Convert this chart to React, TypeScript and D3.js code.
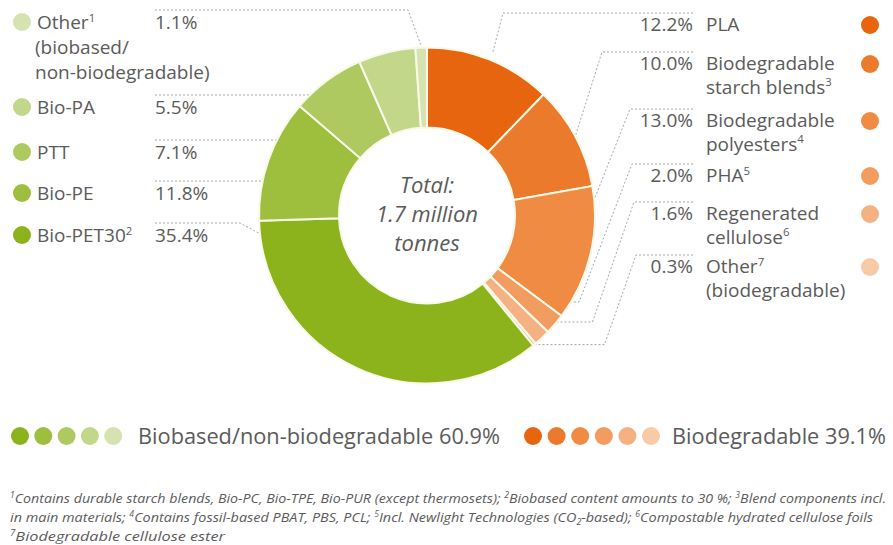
import * as d3 from "d3"

// shares in %, clockwise from 12 o'clock
const degradableNames = ["PLA", "Biodegradable starch blends", "Biodegradable polyesters", "PHA", "Regenerated cellulose", "Other (biodegradable)"]
const degradableShares = [12.2, 10.0, 13.0, 2.0, 1.6, 0.3]
const degradableLabels = [["PLA"], ["Biodegradable", "starch blends^3"], ["Biodegradable", "polyesters^4"], ["PHA^5"], ["Regenerated", "cellulose^6"], ["Other^7", "(biodegradable)"]]
const degradableColors = ["#e8650f", "#ec7a2c", "#ef8b43", "#f29c5f", "#f5b182", "#f8caa5"]

const biobasedNames = ["Bio-PET30", "Bio-PE", "PTT", "Bio-PA", "Other (biobased/non-biodegradable)"]
const biobasedShares = [35.4, 11.8, 7.1, 5.5, 1.1]
const biobasedLabels = [["Bio-PET30^2"], ["Bio-PE"], ["PTT"], ["Bio-PA"], ["Other^1", "(biobased/", "non-biodegradable)"]]
const biobasedColors = ["#8db31c", "#9ebe3d", "#afc961", "#c3d78b", "#d6e2b0"]

const centerLines = ["Total:", "1.7 million", "tonnes"]
const groupLegend = ["Biobased/non-biodegradable 60.9%", "Biodegradable 39.1%"]
const footnotes = [
  "^1Contains durable starch blends, Bio-PC, Bio-TPE, Bio-PUR (except thermosets); ^2Biobased content amounts to 30 %; ^3Blend components incl.",
  "in main materials; ^4Contains fossil-based PBAT, PBS, PCL; ^5Incl. Newlight Technologies (CO_2-based); ^6Compostable hydrated cellulose foils",
  "^7Biodegradable cellulose ester",
]

const W = 893
const H = 545
const cx = 427
const cy = 215.5
const R = 168
const r0 = 88
const FONT = "'Open Sans', 'DejaVu Sans', sans-serif"
const GREY = "#5b5b5b"
const LEADER = "#a3a8b0"

// label rows (y of the first text line)
const rightRows = [24, 63, 120, 175, 213, 266]
const leftRows = [235, 193, 152, 107, 22] // Bio-PET30 .. Other
// leader specs
const rightLeaders = [
  { elbow: 503, frac: 0.5, r: 176, flat: 0 },
  { elbow: 602, frac: 0.5, r: 168, flat: 0 },
  { elbow: 630, frac: 0.3, r: 157, flat: 0 },
  { elbow: 632, frac: 0.2, r: 140, flat: 42 },
  { elbow: 634, frac: 0.1, r: 152, flat: 57 },
  { elbow: 636, frac: 0.5, r: 168, flat: 70 },
]
const leftLeaders = [
  { elbow: 240, frac: 0.9, r: 140 },
  { r: 138 },
  { r: 102 },
  { r: 128 },
  { elbow: 408, frac: 0.5, r: 170 },
]

function rich(str: string, size: number) {
  const parts = str.split(/(\^\d|_\d)/).filter((p) => p !== "")
  const out: any[] = []
  let shift = 0
  parts.forEach((p, i) => {
    if (p[0] === "^" || p[0] === "_") {
      const dy = p[0] === "^" ? -size * 0.38 : size * 0.22
      out.push(
        <tspan key={i} dy={dy - shift} fontSize={size * 0.6}>
          {p.slice(1)}
        </tspan>
      )
      shift = dy
    } else {
      out.push(
        <tspan key={i} dy={-shift}>
          {p}
        </tspan>
      )
      shift = 0
    }
  })
  return out
}

const polar = (a: number, r: number): [number, number] => [cx + r * Math.sin(a), cy - r * Math.cos(a)]

export default function App() {
  const names = [...degradableNames, ...biobasedNames]
  const shares = [...degradableShares, ...biobasedShares]
  const colors = [...degradableColors, ...biobasedColors]
  const idx = d3.range(names.length)

  const pie = d3
    .pie<number>()
    .sort(null)
    .value((i) => shares[i])
  const arcs = pie(idx)
  const arc = d3.arc<d3.PieArcDatum<number>>().innerRadius(r0).outerRadius(R)
  const line = d3.line()

  const nD = degradableNames.length

  const rightPaths = degradableNames.map((_, i) => {
    const a = arcs[i]
    const s = rightLeaders[i]
    const ang = a.startAngle + (a.endAngle - a.startAngle) * s.frac
    const end = polar(ang, s.r)
    const ly = rightRows[i] - 11
    const pts: [number, number][] = [[693, ly], [s.elbow, ly]]
    if (s.flat) pts.push([end[0] + s.flat, end[1]])
    pts.push(end)
    return line(pts)
  })

  const leftPaths = biobasedNames.map((_, j) => {
    const a = arcs[nD + j]
    const s = leftLeaders[j]
    const ly = leftRows[j] - 12
    const pts: [number, number][] = [[155, ly]]
    if (s.elbow !== undefined) {
      const ang = a.startAngle + (a.endAngle - a.startAngle) * (s.frac as number)
      pts.push([s.elbow, ly], polar(ang, s.r))
    } else {
      const dy = ly - cy
      pts.push([cx - Math.sqrt(s.r * s.r - dy * dy), ly])
    }
    return line(pts)
  })

  const fs = 19

  return (
    <svg width={W} height={H} style={{ position: "absolute", left: 0, top: 0, background: "#fff" }} fontFamily={FONT}>
      {/* leader lines */}
      <g fill="none" stroke={LEADER} strokeWidth={1} strokeDasharray="2,2">
        {rightPaths.map((d, i) => (
          <path key={"r" + i} d={d ?? ""} />
        ))}
        {leftPaths.map((d, i) => (
          <path key={"l" + i} d={d ?? ""} />
        ))}
      </g>

      {/* donut */}
      <g transform={`translate(${cx},${cy})`}>
        {arcs.map((a, i) => (
          <path key={i} d={arc(a) ?? ""} fill={colors[i]} stroke="#f8f9e8" strokeWidth={2} />
        ))}
      </g>

      <g textAnchor="middle" fontStyle="italic" fontSize={22} fill={GREY}>
        {centerLines.map((t, i) => (
          <text key={i} x={cx} y={cy - 23 + i * 29}>
            {t}
          </text>
        ))}
      </g>

      {/* right labels */}
      {degradableNames.map((_, i) => (
        <g key={"rl" + i} fontSize={fs} fill={GREY}>
          <text x={693} y={rightRows[i] + 7} textAnchor="end">
            {degradableShares[i].toFixed(1)}%
          </text>
          {degradableLabels[i].map((t, k) => (
            <text key={k} x={706} y={rightRows[i] + 7 + k * 23.5}>
              {rich(t, fs)}
            </text>
          ))}
          <circle cx={870} cy={rightRows[i] + 1} r={9} fill={degradableColors[i]} />
        </g>
      ))}

      {/* left labels */}
      {biobasedNames.map((_, j) => (
        <g key={"ll" + j} fontSize={fs} fill={GREY}>
          <circle cx={22} cy={leftRows[j]} r={9} fill={biobasedColors[j]} />
          {biobasedLabels[j].map((t, k) => (
            <text key={k} x={k === 0 ? 37 : 35} y={leftRows[j] + 7 + k * 25}>
              {rich(t, fs)}
            </text>
          ))}
          <text x={155} y={leftRows[j] + 7}>
            {biobasedShares[j].toFixed(1)}%
          </text>
        </g>
      ))}

      {/* group legend */}
      <g>
        {biobasedColors.map((c, i) => (
          <circle key={"g" + i} cx={20 + i * 23.3} cy={436} r={9} fill={c} />
        ))}
        <text x={138} y={444} fontSize={22} fill={GREY} textLength={362} lengthAdjust="spacingAndGlyphs">
          {groupLegend[0]}
        </text>
        {degradableColors.map((c, i) => (
          <circle key={"o" + i} cx={533 + i * 23.6} cy={436} r={9} fill={c} />
        ))}
        <text x={672} y={444} fontSize={22} fill={GREY} textLength={214} lengthAdjust="spacingAndGlyphs">
          {groupLegend[1]}
        </text>
      </g>

      {/* footnotes */}
      <g fontSize={13.5} fontStyle="italic" fill={GREY} fontFamily="'Liberation Sans Narrow', 'Open Sans', sans-serif">
        {footnotes.map((t, i) => (
          <text key={i} x={10} y={503 + i * 19} textLength={[876, 863, 215][i]} lengthAdjust="spacingAndGlyphs">
            {rich(t, 13.5)}
          </text>
        ))}
      </g>
    </svg>
  )
}
